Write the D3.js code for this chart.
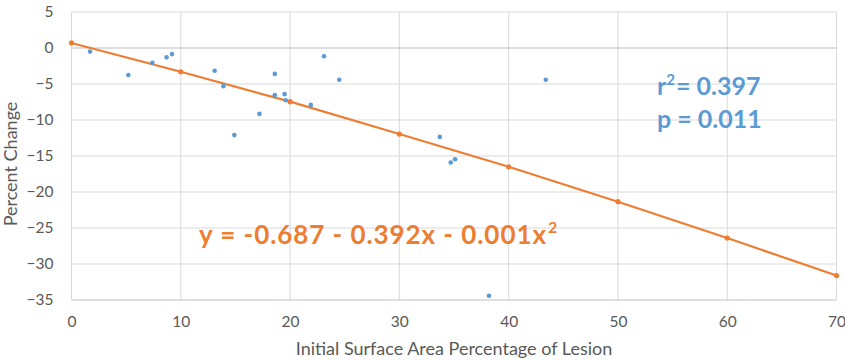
<!DOCTYPE html>
<html><head><meta charset="utf-8">
<script src="https://cdn.jsdelivr.net/npm/d3@7"></script>
<style>body{margin:0;background:#fff;} svg{display:block;}</style>
</head><body>
<svg id="chart" width="845" height="360"></svg>
<script>
const pointX = [1.7,5.2,7.4,8.7,9.2,13.1,13.9,14.9,17.2,18.6,18.6,19.5,19.6,21.9,23.1,24.5,33.7,34.7,35.1,38.2,43.4];
const pointY = [-0.5,-3.75,-2.05,-1.3,-0.85,-3.15,-5.3,-12.1,-9.15,-3.6,-6.55,-6.4,-7.25,-7.9,-1.15,-4.4,-12.35,-15.9,-15.45,-34.4,-4.4];
const trendX = [0,10,20,30,40,50,60,70];
const trendY = [0.7,-3.3,-7.45,-11.95,-16.5,-21.35,-26.4,-31.6];
const xTicks = [0,10,20,30,40,50,60,70];
const yTicks = [5,0,-5,-10,-15,-20,-25,-30,-35];
const equationText = "y = -0.687 - 0.392x - 0.001x";
const statsLines = ["= 0.397","p = 0.011"];
const xTitle = "Initial Surface Area Percentage of Lesion";
const yTitle = "Percent Change";

const svg = d3.select("#chart");
const font = "Lato, 'Open Sans', sans-serif";
const x = d3.scaleLinear().domain([0,70]).range([71.5,836.5]);
const y = d3.scaleLinear().domain([-35,5]).range([300,12]);

// gridlines
svg.append("g").selectAll("line.v").data(xTicks).join("line")
  .attr("x1", d=>x(d)).attr("x2", d=>x(d)).attr("y1", y(5)).attr("y2", y(-35))
  .attr("stroke", "#d9d9d9").attr("stroke-width", 1);
svg.append("g").selectAll("line.h").data(yTicks).join("line")
  .attr("x1", x(0)).attr("x2", x(70)).attr("y1", d=>y(d)).attr("y2", d=>y(d))
  .attr("stroke", d => (d===0 || d===-35) ? "#bfbfbf" : "#d9d9d9").attr("stroke-width", 1);

// axes labels via d3 axes
const yAxis = svg.append("g").attr("transform", `translate(${x(0)},0)`)
  .call(d3.axisLeft(y).tickValues(yTicks).tickSize(0).tickPadding(18));
yAxis.select(".domain").remove();
yAxis.selectAll("text").attr("font-family", font).attr("font-size", 15.5).attr("fill", "#595959");

const xAxis = svg.append("g").attr("transform", `translate(0,${y(-35)})`)
  .call(d3.axisBottom(x).tickValues(xTicks).tickSize(0).tickPadding(16));
xAxis.select(".domain").remove();
xAxis.selectAll("text").attr("font-family", font).attr("font-size", 15.5).attr("fill", "#595959");

// titles
svg.append("text").attr("x", 454).attr("y", 355).attr("text-anchor", "middle")
  .attr("font-family", font).attr("font-size", 18).attr("fill", "#595959").text(xTitle);
svg.append("text").attr("transform", "translate(17,164) rotate(-90)").attr("text-anchor", "middle")
  .attr("font-family", font).attr("font-size", 18).attr("fill", "#595959").text(yTitle);

// trend line
const line = d3.line().x((d,i)=>x(trendX[i])).y(d=>y(d));
svg.append("path").datum(trendY).attr("d", line).attr("fill", "none")
  .attr("stroke", "#ED7D31").attr("stroke-width", 2.2);
svg.append("g").selectAll("circle").data(trendY).join("circle")
  .attr("cx", (d,i)=>x(trendX[i])).attr("cy", d=>y(d)).attr("r", 2.6).attr("fill", "#ED7D31");

// points
svg.append("g").selectAll("circle").data(pointX).join("circle")
  .attr("cx", d=>x(d)).attr("cy", (d,i)=>y(pointY[i])).attr("r", 2.3).attr("fill", "#5B9BD5");

// equation
const eq = svg.append("text").attr("x", 199).attr("y", 244)
  .attr("font-family", font).attr("font-weight", "bold").attr("font-size", 26).attr("fill", "#ED7D31")
  .attr("textLength", 347).attr("lengthAdjust", "spacing")
  .text(equationText);
svg.append("text").attr("x", 548).attr("y", 233)
  .attr("font-family", font).attr("font-weight", "bold").attr("font-size", 16).attr("fill", "#ED7D31")
  .text("2");

// stats
const st = svg.append("text").attr("x", 657).attr("y", 95)
  .attr("font-family", font).attr("font-weight", "bold").attr("font-size", 25).attr("fill", "#5B9BD5");
st.append("tspan").text("r");
st.append("tspan").attr("font-size", 15).attr("dy", -10).text("2");
st.append("tspan").attr("dy", 10).attr("dx", 1).text(statsLines[0]);
svg.append("text").attr("x", 657).attr("y", 128)
  .attr("font-family", font).attr("font-weight", "bold").attr("font-size", 25).attr("fill", "#5B9BD5")
  .text(statsLines[1]);
</script>
</body></html>
